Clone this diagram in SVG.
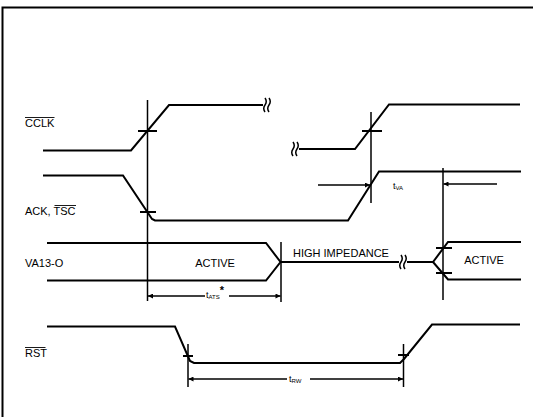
<svg xmlns="http://www.w3.org/2000/svg" width="533" height="417" viewBox="0 0 533 417">
<style>
.w{fill:none;stroke:#000;stroke-width:2;stroke-linejoin:miter}
.t{fill:none;stroke:#000;stroke-width:1.5}
.lbl{font-family:"Liberation Sans",Arial,sans-serif;font-size:11px;fill:#000}
.sm{font-family:"Liberation Sans",Arial,sans-serif;font-size:9px;fill:#000}
.sub{font-family:"Liberation Sans",Arial,sans-serif;font-size:6px;fill:#000}
.ov{stroke:#000;stroke-width:0.9}
</style>
<defs>
<marker id="ah" viewBox="0 0 10 10" refX="10" refY="5" markerWidth="8" markerHeight="5" orient="auto-start-reverse" markerUnits="userSpaceOnUse">
<path d="M0,0 L10,5 L0,10 z" fill="#000"/>
</marker>
</defs>
<rect width="533" height="417" fill="#fff"/>
<g id="frame">
<path class="w" d="M2.5,417 V7.5 H533"/>
</g>
<g id="labels">
<g id="lbl-cclk"><text class="lbl" x="25" y="127">CCLK</text><line class="ov" x1="25" y1="117.5" x2="54.5" y2="117.5"/></g>
<g id="lbl-ack"><text class="lbl" x="25" y="215">ACK, TSC</text><line class="ov" x1="54.5" y1="205.5" x2="76" y2="205.5"/></g>
<g id="lbl-va"><text class="lbl" x="25" y="267">VA13-O</text></g>
<g id="lbl-rst"><text class="lbl" x="25" y="357">RST</text><line class="ov" x1="25" y1="347.5" x2="45.5" y2="347.5"/></g>
</g>
<g id="connectors">
<path id="cclk1" class="w" d="M43,150.5 H131 L169,105 H263"/>
<path id="cclk-brk1" class="t" d="M265,98 q2.5,3.5 0,7 q-2.5,3.5 0,7 M269,98 q2.5,3.5 0,7 q-2.5,3.5 0,7"/>
<path id="cclk-brk2" class="t" d="M293,142 q2.5,3.5 0,7 q-2.5,3.5 0,7 M297,142 q2.5,3.5 0,7 q-2.5,3.5 0,7"/>
<path id="cclk2" class="w" d="M299,149 H355 L389,104.5 H520"/>
<path id="ack" class="w" d="M43,175.5 H123 L152,219 L155,220.5 H348 L379,171.5 H521"/>
<path id="va-left" class="w" d="M47,243 H266 L280.5,262 L266,280.5 H47"/>
<path id="hiz" class="w" d="M280.5,262 H399"/>
<path id="hiz-brk" class="t" d="M401,255 q2.5,3.5 0,7 q-2.5,3.5 0,7 M405,255 q2.5,3.5 0,7 q-2.5,3.5 0,7"/>
<path id="va-right" class="w" d="M407,262 H433 L448,242 H521 M433,262 L448,279.5 H521"/>
<path id="rst" class="w" d="M47,326.5 H175 L190,361 L194,363 H400 L404,359 L432,324.5 H520"/>
<line class="t" x1="147.5" y1="100" x2="147.5" y2="301"/>
<line class="t" x1="371" y1="112" x2="371" y2="203"/>
<line class="t" x1="443" y1="168" x2="443" y2="300"/>
<line class="t" x1="281" y1="242" x2="281" y2="302"/>
<line class="t" x1="188" y1="344" x2="188" y2="387"/>
<line class="t" x1="403.5" y1="344" x2="403.5" y2="387"/>
<g id="ticks" class="w">
<line x1="138" y1="131" x2="157" y2="131"/>
<line x1="140" y1="212" x2="156" y2="212"/>
<line x1="362" y1="131" x2="382" y2="131"/>
<line x1="436" y1="248" x2="452" y2="248"/>
<line x1="436" y1="273" x2="452" y2="273"/>
<line x1="183" y1="356" x2="193" y2="356"/>
<line x1="398" y1="355" x2="409" y2="355"/>
</g>
<line class="t" x1="318" y1="185" x2="370" y2="185" marker-end="url(#ah)"/>
<line class="t" x1="497" y1="184" x2="443.5" y2="184" marker-end="url(#ah)"/>
<line class="t" x1="205" y1="296" x2="148" y2="296" marker-end="url(#ah)"/>
<line class="t" x1="229" y1="296" x2="280.5" y2="296" marker-end="url(#ah)"/>
<line class="t" x1="287" y1="379" x2="188.5" y2="379" marker-end="url(#ah)"/>
<line class="t" x1="310" y1="379" x2="403" y2="379" marker-end="url(#ah)"/>
</g>
<g id="state-labels">
<text class="lbl" x="215" y="267" text-anchor="middle">ACTIVE</text>
<text class="lbl" x="293" y="257">HIGH IMPEDANCE</text>
<text class="lbl" x="484" y="264" text-anchor="middle">ACTIVE</text>
</g>
<g id="timing-labels">
<text class="sm" x="393" y="189">t<tspan class="sub" dy="1">VA</tspan></text>
<text class="sm" x="206" y="298">t<tspan class="sub" dy="1">ATS</tspan><tspan dy="-5" font-size="11" font-weight="bold">*</tspan></text>
<text class="sm" x="289" y="382">t<tspan class="sub" dy="1">RW</tspan></text>
</g>
</svg>
